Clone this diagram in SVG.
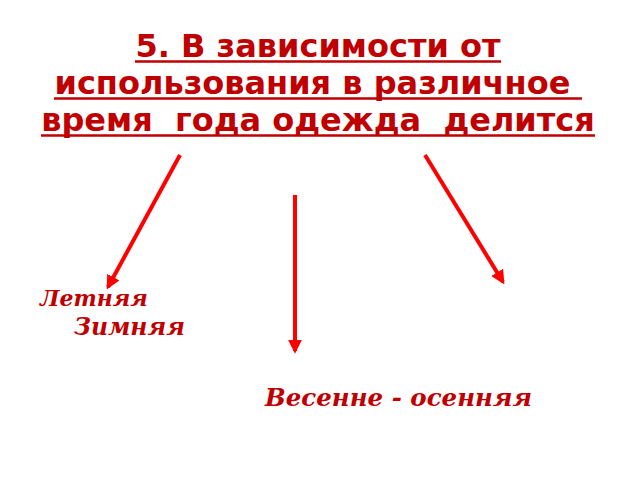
<svg xmlns="http://www.w3.org/2000/svg" width="640" height="480" viewBox="0 0 640 480">
<defs>
<style>
.t{font-family:"DejaVu Sans","Verdana",sans-serif;font-weight:bold;font-size:32px;fill:#c00000;text-anchor:middle;white-space:pre}
.u{stroke:#c00000;stroke-width:2.5}
.l{font-family:"DejaVu Serif","Liberation Serif",serif;font-weight:bold;font-style:italic;fill:#c00000}
.a{stroke:#ff0000;stroke-width:4;fill:none}
</style>
<marker id="ah" viewBox="0 0 10 10" refX="8" refY="5" markerWidth="3.5" markerHeight="3.5" orient="auto" markerUnits="strokeWidth">
<path d="M0,0 L10,5 L0,10 Z" fill="#ff0000"/>
</marker>
</defs>
<rect width="640" height="480" fill="#ffffff"/>
<g id="title">
<text class="t" x="318" y="57" xml:space="preserve">5. В зависимости от</text>
<text class="t" x="318" y="94" xml:space="preserve">использования в различное </text>
<text class="t" x="318" y="131" xml:space="preserve">время  года одежда  делится</text>
<line class="u" x1="135" y1="61.5" x2="501" y2="61.5"/>
<line class="u" x1="54" y1="98.5" x2="582" y2="98.5"/>
<line class="u" x1="41" y1="135.5" x2="595" y2="135.5"/>
</g>
<g id="connectors">
<line class="a" x1="180" y1="155" x2="108" y2="287" marker-end="url(#ah)"/>
<line class="a" x1="295" y1="195" x2="295" y2="351" marker-end="url(#ah)"/>
<line class="a" x1="425" y1="155" x2="503" y2="282" marker-end="url(#ah)"/>
</g>
<g id="summer"><text class="l" x="40" y="306" font-size="22">Летняя</text></g>
<g id="winter"><text class="l" x="74" y="335" font-size="23.5">Зимняя</text></g>
<g id="spring-autumn"><text class="l" x="265" y="406" font-size="24.5">Весенне - осенняя</text></g>
</svg>
